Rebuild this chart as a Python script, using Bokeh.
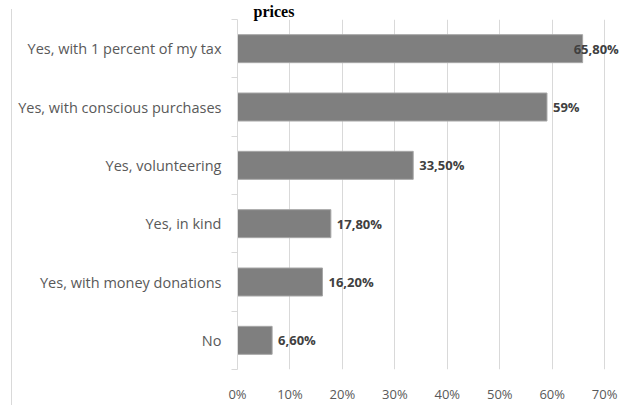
from bokeh.plotting import figure
from bokeh.models import (FactorRange, Range1d, LinearAxis, CategoricalAxis, FixedTicker,
                          Div, ColumnDataSource)
from bokeh.layouts import row
from bokeh.core.properties import value
from bokeh.embed import file_html
from bokeh.resources import INLINE

# ---- data ----
categories = ["No", "Yes, with money donations", "Yes, in kind", "Yes, volunteering",
              "Yes, with conscious purchases", "Yes, with 1 percent of my tax"]
percent = [6.6, 16.2, 17.8, 33.5, 59.0, 65.8]
value_labels = ["6,60%", "16,20%", "17,80%", "33,50%", "59%", "65,80%"]
x_ticks = [0, 10, 20, 30, 40, 50, 60, 70]
x_tick_labels = ["0%", "10%", "20%", "30%", "40%", "50%", "60%", "70%"]
title_text = "prices"

# ---- styling ----
LABEL_FONT = "Open Sans"
GRID = "#d9d9d9"
TEXT_GRAY = "#595959"
X_END = 73.4   # frame runs a little past the last gridline, to the window edge

p = figure(width=610, height=405,
           y_range=FactorRange(*categories, range_padding=0),
           x_range=Range1d(0, X_END),
           output_backend="svg", toolbar_location=None,
           y_axis_location=None,
           min_border_left=225, min_border_right=0,
           min_border_top=17, min_border_bottom=28)
p.outline_line_color = None
p.background_fill_color = "white"
p.border_fill_color = "white"

p.title.text = title_text
p.title.text_font = "Liberation Serif"
p.title.text_font_style = "bold"
p.title.text_font_size = "16px"
p.title.text_color = "black"
p.title.align = "left"
p.title.offset = 16
p.title.standoff = 0

# boundary ticks axis (closest to the frame); numeric ticks on the factor range
# fall on the boundaries between categories
bounds = list(range(len(categories) + 1))
tick_axis = LinearAxis(ticker=FixedTicker(ticks=bounds),
                       major_label_overrides={i: "" for i in bounds},
                       major_tick_out=6, major_tick_in=0, major_label_standoff=0,
                       axis_line_color=GRID, major_tick_line_color=GRID,
                       minor_tick_line_color=None)
p.add_layout(tick_axis, "left")

cat_axis = CategoricalAxis(axis_line_color=None, major_tick_line_color=None,
                           major_tick_out=0, major_tick_in=0, major_label_standoff=10,
                           major_label_text_font=LABEL_FONT,
                           major_label_text_font_size="14.5px",
                           major_label_text_color=TEXT_GRAY)
p.add_layout(cat_axis, "left")

xa = p.xaxis[0]
xa.ticker = FixedTicker(ticks=x_ticks)
xa.major_label_overrides = {t: l for t, l in zip(x_ticks, x_tick_labels)}
xa.axis_line_color = None
xa.major_tick_line_color = None
xa.minor_tick_line_color = None
xa.major_label_standoff = 9
xa.major_label_text_font = LABEL_FONT
xa.major_label_text_font_size = "13px"
xa.major_label_text_color = TEXT_GRAY

p.xgrid.ticker = FixedTicker(ticks=x_ticks)
p.xgrid.grid_line_color = GRID
p.ygrid.grid_line_color = None

src = ColumnDataSource(dict(cat=categories, val=percent, lab=value_labels,
                            off=[-9 if v == max(percent) else 6 for v in percent]))
p.hbar(y="cat", left=0, right="val", height=0.48, source=src,
       fill_color="#7f7f7f", line_color="#a6a6a6", line_width=1)
p.text(x="val", y="cat", text="lab", x_offset="off", source=src,
       text_baseline="middle", text_align="left",
       text_font=value(LABEL_FONT), text_font_style="bold",
       text_font_size="13px", text_color="#404040")

border = Div(text="", width=12, height=396, margin=(9, 0, 0, 0),
             styles={"border-right": "1px solid #d9d9d9", "box-sizing": "border-box"})

layout = row(border, p, spacing=0)
open("out.html", "w").write(file_html(layout, INLINE))
